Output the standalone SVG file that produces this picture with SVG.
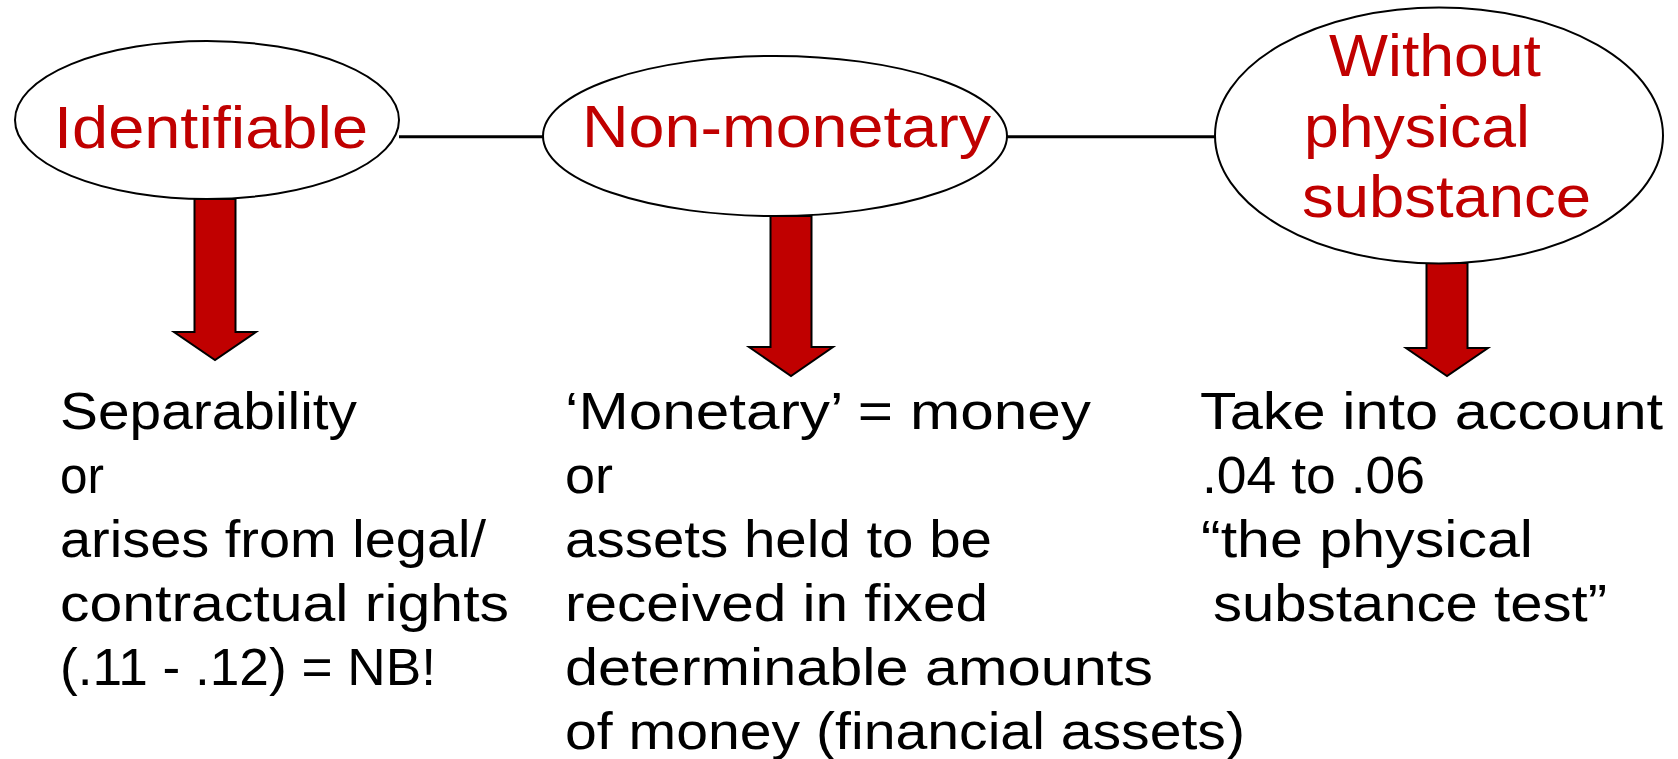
<svg xmlns="http://www.w3.org/2000/svg" width="1678" height="759" viewBox="0 0 1678 759">
  <style>
    .oval { fill: #FFFFFF; stroke: #000000; stroke-width: 2; }
    .head { font-family: "Liberation Sans", Arial, sans-serif; font-size: 60px; fill: #C00000; }
    .body { font-family: "Liberation Sans", Arial, sans-serif; font-size: 52px; fill: #000000; }
    .link { stroke: #000000; stroke-width: 3; fill: none; }
    .blk { fill: #C00000; stroke: #000000; stroke-width: 2; stroke-linejoin: miter; }
  </style>
  <rect width="1678" height="759" fill="#FFFFFF"/>

  <g id="connectors">
    <line class="link" x1="399" y1="136.7" x2="543" y2="136.7"/>
    <line class="link" x1="1007" y1="136.7" x2="1215" y2="136.7"/>
    <polygon class="blk" points="194.5,199 235.5,199 235.5,332 256,332 215,360 174,332 194.5,332"/>
    <polygon class="blk" points="770.5,216 811.5,216 811.5,347 833,347 791,376 749,347 770.5,347"/>
    <polygon class="blk" points="1426.5,263 1467.5,263 1467.5,348 1488,348 1447,376 1406,348 1426.5,348"/>
  </g>

  <g id="node-identifiable">
    <ellipse class="oval" cx="207" cy="120" rx="192" ry="79"/>
    <text class="head" x="54" y="148" textLength="314" lengthAdjust="spacingAndGlyphs">Identifiable</text>
  </g>

  <g id="node-nonmonetary">
    <ellipse class="oval" cx="775" cy="136" rx="232" ry="80"/>
    <text class="head" x="582" y="147" textLength="409" lengthAdjust="spacingAndGlyphs">Non-monetary</text>
  </g>

  <g id="node-without">
    <ellipse class="oval" cx="1439" cy="135.5" rx="224" ry="128"/>
    <text class="head" x="1329" y="76" textLength="212" lengthAdjust="spacingAndGlyphs">Without</text>
    <text class="head" x="1304" y="146.5" textLength="226" lengthAdjust="spacingAndGlyphs">physical</text>
    <text class="head" x="1302" y="216.5" textLength="289" lengthAdjust="spacingAndGlyphs">substance</text>
  </g>

  <g id="text-identifiable">
    <text class="body" x="60" y="429" textLength="297" lengthAdjust="spacingAndGlyphs">Separability</text>
    <text class="body" x="60" y="493" textLength="44" lengthAdjust="spacingAndGlyphs">or</text>
    <text class="body" x="60" y="557" textLength="426" lengthAdjust="spacingAndGlyphs">arises from legal/</text>
    <text class="body" x="60" y="621" textLength="449" lengthAdjust="spacingAndGlyphs">contractual rights</text>
    <text class="body" x="60" y="685" textLength="376" lengthAdjust="spacingAndGlyphs">(.11 - .12) = NB!</text>
  </g>

  <g id="text-nonmonetary">
    <text class="body" x="565" y="429" textLength="526" lengthAdjust="spacingAndGlyphs">‘Monetary’ = money</text>
    <text class="body" x="565" y="493" textLength="48" lengthAdjust="spacingAndGlyphs">or</text>
    <text class="body" x="565" y="557" textLength="427" lengthAdjust="spacingAndGlyphs">assets held to be</text>
    <text class="body" x="565" y="621" textLength="423" lengthAdjust="spacingAndGlyphs">received in fixed</text>
    <text class="body" x="565" y="685" textLength="588" lengthAdjust="spacingAndGlyphs">determinable amounts</text>
    <text class="body" x="565" y="749" textLength="680" lengthAdjust="spacingAndGlyphs">of money (financial assets)</text>
  </g>

  <g id="text-without">
    <text class="body" x="1200" y="429" textLength="463" lengthAdjust="spacingAndGlyphs">Take into account</text>
    <text class="body" x="1202" y="493" textLength="223" lengthAdjust="spacingAndGlyphs">.04 to .06</text>
    <text class="body" x="1201" y="557" textLength="332" lengthAdjust="spacingAndGlyphs">“the physical</text>
    <text class="body" x="1213" y="621" textLength="394" lengthAdjust="spacingAndGlyphs">substance test”</text>
  </g>
</svg>
